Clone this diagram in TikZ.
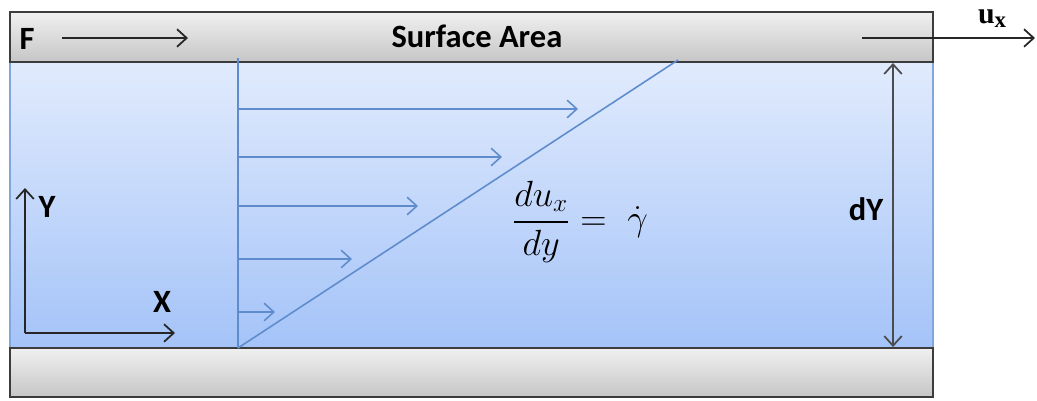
\documentclass[tikz,border=0pt]{standalone}
\usepackage{amsmath}
\usepackage{fontspec}
\setsansfont{Carlito}
\newfontfamily\timesbold{Liberation Serif}
\usepackage{tikz}
\usetikzlibrary{arrows.meta, positioning}

\definecolor{fluidtop}{RGB}{225,235,253}
\definecolor{fluidbottom}{RGB}{164,195,248}
\definecolor{fluidedge}{RGB}{130,165,220}
\definecolor{platetop}{RGB}{240,240,240}
\definecolor{platebottom}{RGB}{198,198,198}
\definecolor{plateedge}{RGB}{60,60,60}
\definecolor{flowblue}{RGB}{95,140,205}

\begin{document}
\begin{tikzpicture}[
    x=0.02cm, y=-0.02cm,
    plate/.style = {rectangle, draw=plateedge, line width=1.1pt, top color=platetop, bottom color=platebottom, minimum width=18.46cm, inner sep=0pt},
    fluidbox/.style = {rectangle, draw=fluidedge, line width=0.8pt, top color=fluidtop, bottom color=fluidbottom, minimum width=18.46cm, minimum height=5.72cm, inner sep=0pt},
    lbl/.style = {font=\sffamily\bfseries\fontsize{18.5}{22}\selectfont, inner sep=0pt},
    flow/.style = {draw=flowblue, line width=0.9pt},
    flowarrow/.style = {flow, -{Straight Barb[length=5.5pt, width=10pt]}},
    arrow/.style = {draw=black!85, line width=1pt, -{Straight Barb[length=5.5pt, width=10pt]}},
    gap/.style = {draw=black!70, line width=1pt, {Straight Barb[length=5.5pt, width=10pt]}-{Straight Barb[length=5.5pt, width=10pt]}}
]
\useasboundingbox (0,0) rectangle (1037,400);

% Fluid between the plates
\node (fluid) [fluidbox] at (471.5,205) {};

% Plates
\node (top_plate) [plate, minimum height=1cm] at (471.5,37) {};
\node (bottom_plate) [plate, minimum height=0.98cm] at (471.5,372.5) {};

% Labels
\node (f_label) [lbl] at (27,39) {F};
\node (area_label) [lbl] at (477,36) {Surface Area};
\node (ux_label) [inner sep=0pt] at (992,19) {\timesbold\bfseries\fontsize{17}{20}\selectfont u\raisebox{-0.3ex}{\fontsize{13}{15}\selectfont x}};
\node (y_label) [lbl] at (47,207) {Y};
\node (x_label) [lbl] at (162,302) {X};
\node (dy_label) [lbl] at (866,209) {dY};
\node (rate_label) [inner sep=0pt] at (580,222) {\fontsize{20}{24}\selectfont$\dfrac{du_x}{dy} =\ \dot{\gamma}$};

% Points
\coordinate (f_start) at (62,38);
\coordinate (f_end) at (188,38);
\coordinate (ux_start) at (862,38);
\coordinate (ux_end) at (1035,38);
\coordinate (gap_top) at (893,63);
\coordinate (gap_bot) at (893,347);
\coordinate (origin) at (25,333);
\coordinate (y_end) at (25,188);
\coordinate (x_end) at (175,333);
\coordinate (wall_top) at (238,58);
\coordinate (wall_bot) at (238,348);
\coordinate (plate_contact) at (678,60);

% Velocity profile
\draw [flow] (wall_top) -- (wall_bot);
\draw [flow] (wall_bot) -- (plate_contact);
\foreach \yy/\xx [count=\i] in {109/578, 157/502, 206/418, 259/352, 312/275} {
    \coordinate (v\i_start) at (238,\yy);
    \coordinate (v\i_end) at (\xx,\yy);
    \draw [flowarrow] (v\i_start) -- (v\i_end);
}

% Force, plate velocity and gap
\draw [arrow] (f_start) -- (f_end);
\draw [arrow] (ux_start) -- (ux_end);
\draw [gap] (gap_top) -- (gap_bot);

% Axes
\draw [arrow] (origin) -- (y_end);
\draw [arrow] (origin) -- (x_end);

\end{tikzpicture}
\end{document}
